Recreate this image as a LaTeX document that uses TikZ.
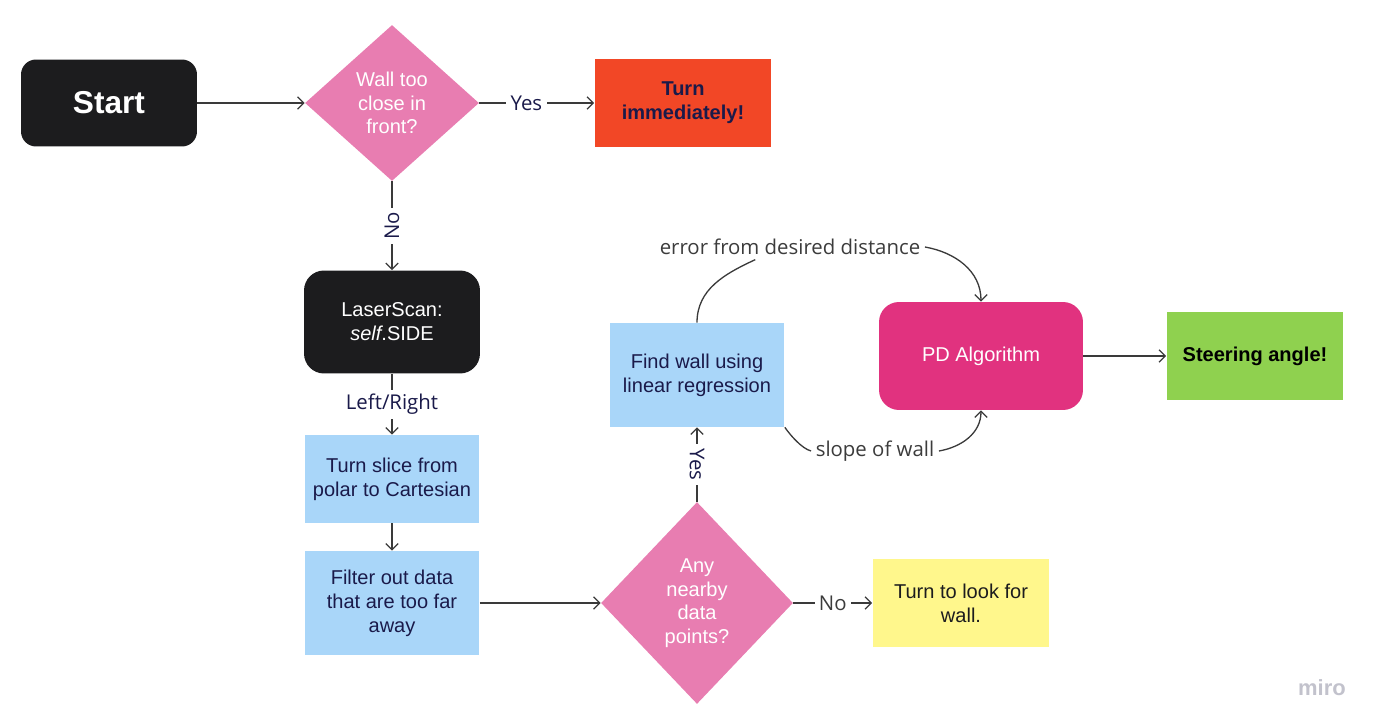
\documentclass[tikz,border=0pt]{standalone}
\usepackage{fontspec}
\setmainfont{Liberation Sans}
\newfontfamily\opensans{Open Sans}
\usetikzlibrary{shapes.geometric,arrows.meta,positioning}
\definecolor{boxblack}{HTML}{1C1C1E}
\definecolor{decpink}{HTML}{E87DB1}
\definecolor{turnred}{HTML}{F24726}
\definecolor{stepblue}{HTML}{A9D6F9}
\definecolor{lookyellow}{HTML}{FFF78C}
\definecolor{pdmagenta}{HTML}{E1327F}
\definecolor{steergreen}{HTML}{8FD14F}
\definecolor{darknavy}{HTML}{1A1A4A}
\definecolor{linegray}{HTML}{3A3A3A}
\definecolor{labelgray}{HTML}{3C3C3C}
\definecolor{mirogray}{HTML}{C2C2CC}
\tikzset{
    boxnode/.style={rectangle, inner sep=0pt, align=center,
        font=\fontsize{11.4}{13.7}\selectfont},
    stepnode/.style={boxnode, fill=stepblue, text=darknavy,
        minimum width=3.5cm},
    decision/.style={diamond, fill=decpink, text=white, inner sep=0pt,
        align=center, font=\fontsize{11.4}{13.4}\selectfont},
    flowarrow/.style={draw=linegray, line width=0.75pt,
        -{Straight Barb[length=3.5pt,width=7pt]}},
    flowline/.style={draw=linegray, line width=0.75pt},
    edgelabel/.style={font=\opensans\fontsize{11.6}{14}\selectfont,
        fill=white, inner sep=2.5pt, text=darknavy}
}
\begin{document}
\begin{tikzpicture}[x=0.02cm, y=-0.02cm]
    \useasboundingbox (0, 0) rectangle (1376, 726);
    % top row
    \node[boxnode, fill=boxblack, text=white, rounded corners=0.3cm,
        minimum width=3.52cm, minimum height=1.74cm,
        font=\bfseries\fontsize{18}{20}\selectfont] (start) at (109, 103) {Start};
    \node[decision, aspect=1.115, minimum width=3.48cm, minimum height=3.12cm]
        (wallq) at (392, 103) {Wall too\\close in\\front?};
    \node[boxnode, fill=turnred, text=darknavy, minimum width=3.54cm, minimum height=1.76cm,
        font=\bfseries\fontsize{11.4}{13.7}\selectfont] (turnnow) at (683, 103) {Turn\\immediately!};
    % left column
    \node[boxnode, fill=boxblack, text=white, rounded corners=0.4cm,
        minimum width=3.52cm, minimum height=2.06cm] (laser) at (392, 322)
        {LaserScan:\\\textit{self}.SIDE};
    \node[stepnode, minimum height=1.76cm] (slice) at (392, 479)
        {Turn slice from\\polar to Cartesian};
    \node[stepnode, minimum height=2.08cm] (filter) at (392, 603)
        {Filter out data\\that are too far\\away};
    % lower right
    \node[decision, aspect=0.95, minimum width=3.84cm, minimum height=4.04cm]
        (dataq) at (697, 603) {Any\\nearby\\data\\points?};
    \node[boxnode, fill=lookyellow, text=boxblack, minimum width=3.54cm, minimum height=1.76cm]
        (lookturn) at (961, 603) {Turn to look for\\wall.};
    \node[stepnode, minimum height=2.08cm] (findwall) at (697, 375)
        {Find wall using\\linear regression};
    \node[boxnode, fill=pdmagenta, text=white, rounded corners=0.4cm,
        minimum width=4.08cm, minimum height=2.16cm] (pd) at (981, 356) {PD Algorithm};
    \node[boxnode, fill=steergreen, text=black, minimum width=3.54cm, minimum height=1.76cm,
        font=\bfseries\fontsize{11.4}{13.7}\selectfont] (steer) at (1255, 356) {Steering angle!};
    \node[edgelabel, text=labelgray] (errlbl) at (790, 247) {error from desired distance};
    \node[edgelabel, text=labelgray] (slopelbl) at (875, 451) {slope of wall};
    \node[font=\bfseries\fontsize{12.5}{15}\selectfont, text=mirogray] (miro) at (1322, 688) {miro};
    % connectors
    \draw[flowarrow] (start) -- (wallq);
    \draw[flowarrow] (wallq) -- node[edgelabel, pos=0.41] {Yes} (turnnow);
    \draw[flowarrow] (wallq) -- node[edgelabel, rotate=90] {No} (laser);
    \draw[flowarrow] (laser) -- node[edgelabel] {Left/Right} (slice);
    \draw[flowarrow] (slice) -- (filter);
    \draw[flowarrow] (filter) -- (dataq);
    \draw[flowarrow] (dataq) -- node[edgelabel, rotate=-90] {Yes} (findwall);
    \draw[flowarrow] (dataq) -- node[edgelabel, text=labelgray] {No} (lookturn);
    \draw[flowarrow] (pd) -- (steer);
    \draw[flowline] (findwall.north) to[out=90, in=205] (errlbl.200);
    \draw[flowarrow] (errlbl.east) to[out=-10, in=90] (pd.north);
    \draw[flowline] (findwall.south east) to[out=-55, in=165, looseness=0.7] (slopelbl.west);
    \draw[flowarrow] (slopelbl.east) to[out=10, in=-90] (pd.south);
\end{tikzpicture}
\end{document}
